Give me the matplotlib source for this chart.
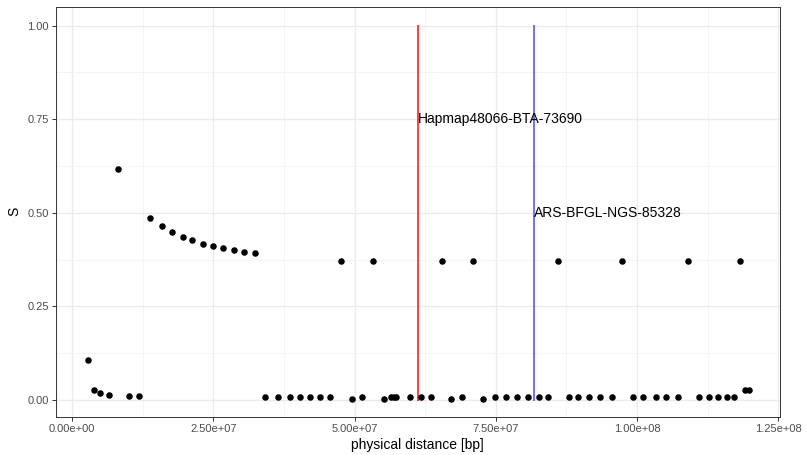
import matplotlib
matplotlib.use("Agg")
import matplotlib.pyplot as plt
from matplotlib.ticker import FixedLocator, FuncFormatter

plt.rcParams["font.family"] = ["Liberation Sans", "DejaVu Sans"]

# positions in bp and S values per marker
pos_bp = [
    2.83e6, 3.89e6, 4.95e6, 6.49e6, 8.13e6, 10.0e6, 11.9e6,
    13.8e6, 15.9e6, 17.7e6, 19.6e6, 21.3e6, 23.1e6, 24.9e6, 26.8e6, 28.6e6, 30.4e6, 32.4e6,
    34.2e6, 36.5e6, 38.5e6, 40.3e6, 42.1e6, 43.9e6, 45.7e6, 47.6e6, 49.6e6, 51.3e6, 53.2e6,
    55.2e6, 56.5e6, 56.9e6, 57.4e6, 59.8e6, 61.7e6, 63.5e6, 65.4e6, 67.1e6, 69.0e6, 70.9e6,
    72.8e6, 74.9e6, 76.8e6, 78.7e6, 80.7e6, 82.7e6, 84.3e6, 86.0e6, 87.9e6, 89.6e6, 91.5e6,
    93.4e6, 95.5e6, 97.4e6, 99.2e6, 101.1e6, 103.3e6, 105.2e6, 107.2e6, 109.0e6, 110.9e6,
    112.7e6, 114.4e6, 115.9e6, 117.2e6, 118.2e6, 119.1e6, 119.9e6,
]
s_vals = [
    0.107, 0.027, 0.018, 0.014, 0.616, 0.011, 0.011,
    0.485, 0.464, 0.448, 0.436, 0.427, 0.418, 0.412, 0.405, 0.401, 0.396, 0.392,
    0.007, 0.007, 0.007, 0.007, 0.007, 0.007, 0.007, 0.371, 0.002, 0.007, 0.371,
    0.002, 0.007, 0.007, 0.007, 0.007, 0.007, 0.007, 0.371, 0.002, 0.007, 0.371,
    0.002, 0.007, 0.007, 0.007, 0.007, 0.007, 0.007, 0.371, 0.007, 0.007, 0.007,
    0.007, 0.007, 0.371, 0.007, 0.007, 0.007, 0.007, 0.007, 0.371, 0.007,
    0.007, 0.007, 0.007, 0.007, 0.371, 0.027, 0.027,
]

marker_names = ["Hapmap48066-BTA-73690", "ARS-BFGL-NGS-85328"]
marker_pos = [61.2e6, 81.7e6]
marker_label_y = [0.75, 0.5]
marker_colors = [(1.0, 0.0, 0.0, 0.75), (0.2, 0.2, 1.0, 0.7)]

x_ticks = [0, 2.5e7, 5.0e7, 7.5e7, 1.0e8, 1.25e8]
x_tick_labels = ["0.00e+00", "2.50e+07", "5.00e+07", "7.50e+07", "1.00e+08", "1.25e+08"]
y_ticks = [0.0, 0.25, 0.5, 0.75, 1.0]
y_tick_labels = ["0.00", "0.25", "0.50", "0.75", "1.00"]

fig = plt.figure(figsize=(8.07, 4.55), dpi=100)
ax = fig.add_axes([0.069, 0.084, 0.8975, 0.901])

for xv, yl, name, col in zip(marker_pos, marker_label_y, marker_names, marker_colors):
    ax.plot([xv, xv], [0, 1], color=col, lw=1.4, zorder=2)
    ax.text(xv, yl, name, ha="left", va="center", fontsize=10, color="black", zorder=4)

ax.scatter(pos_bp, s_vals, s=22, color="black", linewidths=0, zorder=3)

ax.set_xlim(-2.9e6, 125.3e6)
ax.set_ylim(-0.0445, 1.05)

ax.xaxis.set_major_locator(FixedLocator(x_ticks))
ax.xaxis.set_major_formatter(FuncFormatter(lambda v, i: x_tick_labels[i] if i < len(x_tick_labels) else ""))
ax.yaxis.set_major_locator(FixedLocator(y_ticks))
ax.yaxis.set_major_formatter(FuncFormatter(lambda v, i: y_tick_labels[i] if i < len(y_tick_labels) else ""))
ax.xaxis.set_minor_locator(FixedLocator([1.25e7, 3.75e7, 6.25e7, 8.75e7, 1.125e8]))
ax.yaxis.set_minor_locator(FixedLocator([0.125, 0.375, 0.625, 0.875]))

ax.grid(which="major", color="#EBEBEB", lw=1.0, zorder=0)
ax.grid(which="minor", color="#F3F3F3", lw=0.6, zorder=0)
ax.set_axisbelow(True)

for sp in ax.spines.values():
    sp.set_color("#333333")
    sp.set_linewidth(0.7)

ax.tick_params(which="major", length=3, width=0.7, color="#333333",
               labelsize=8, labelcolor="#4D4D4D", pad=2)
ax.tick_params(which="minor", length=0)

ax.set_xlabel("physical distance [bp]", fontsize=10, labelpad=3)
ax.set_ylabel("S", fontsize=10, labelpad=4)

fig.savefig("out.png", dpi=100, facecolor="white")
